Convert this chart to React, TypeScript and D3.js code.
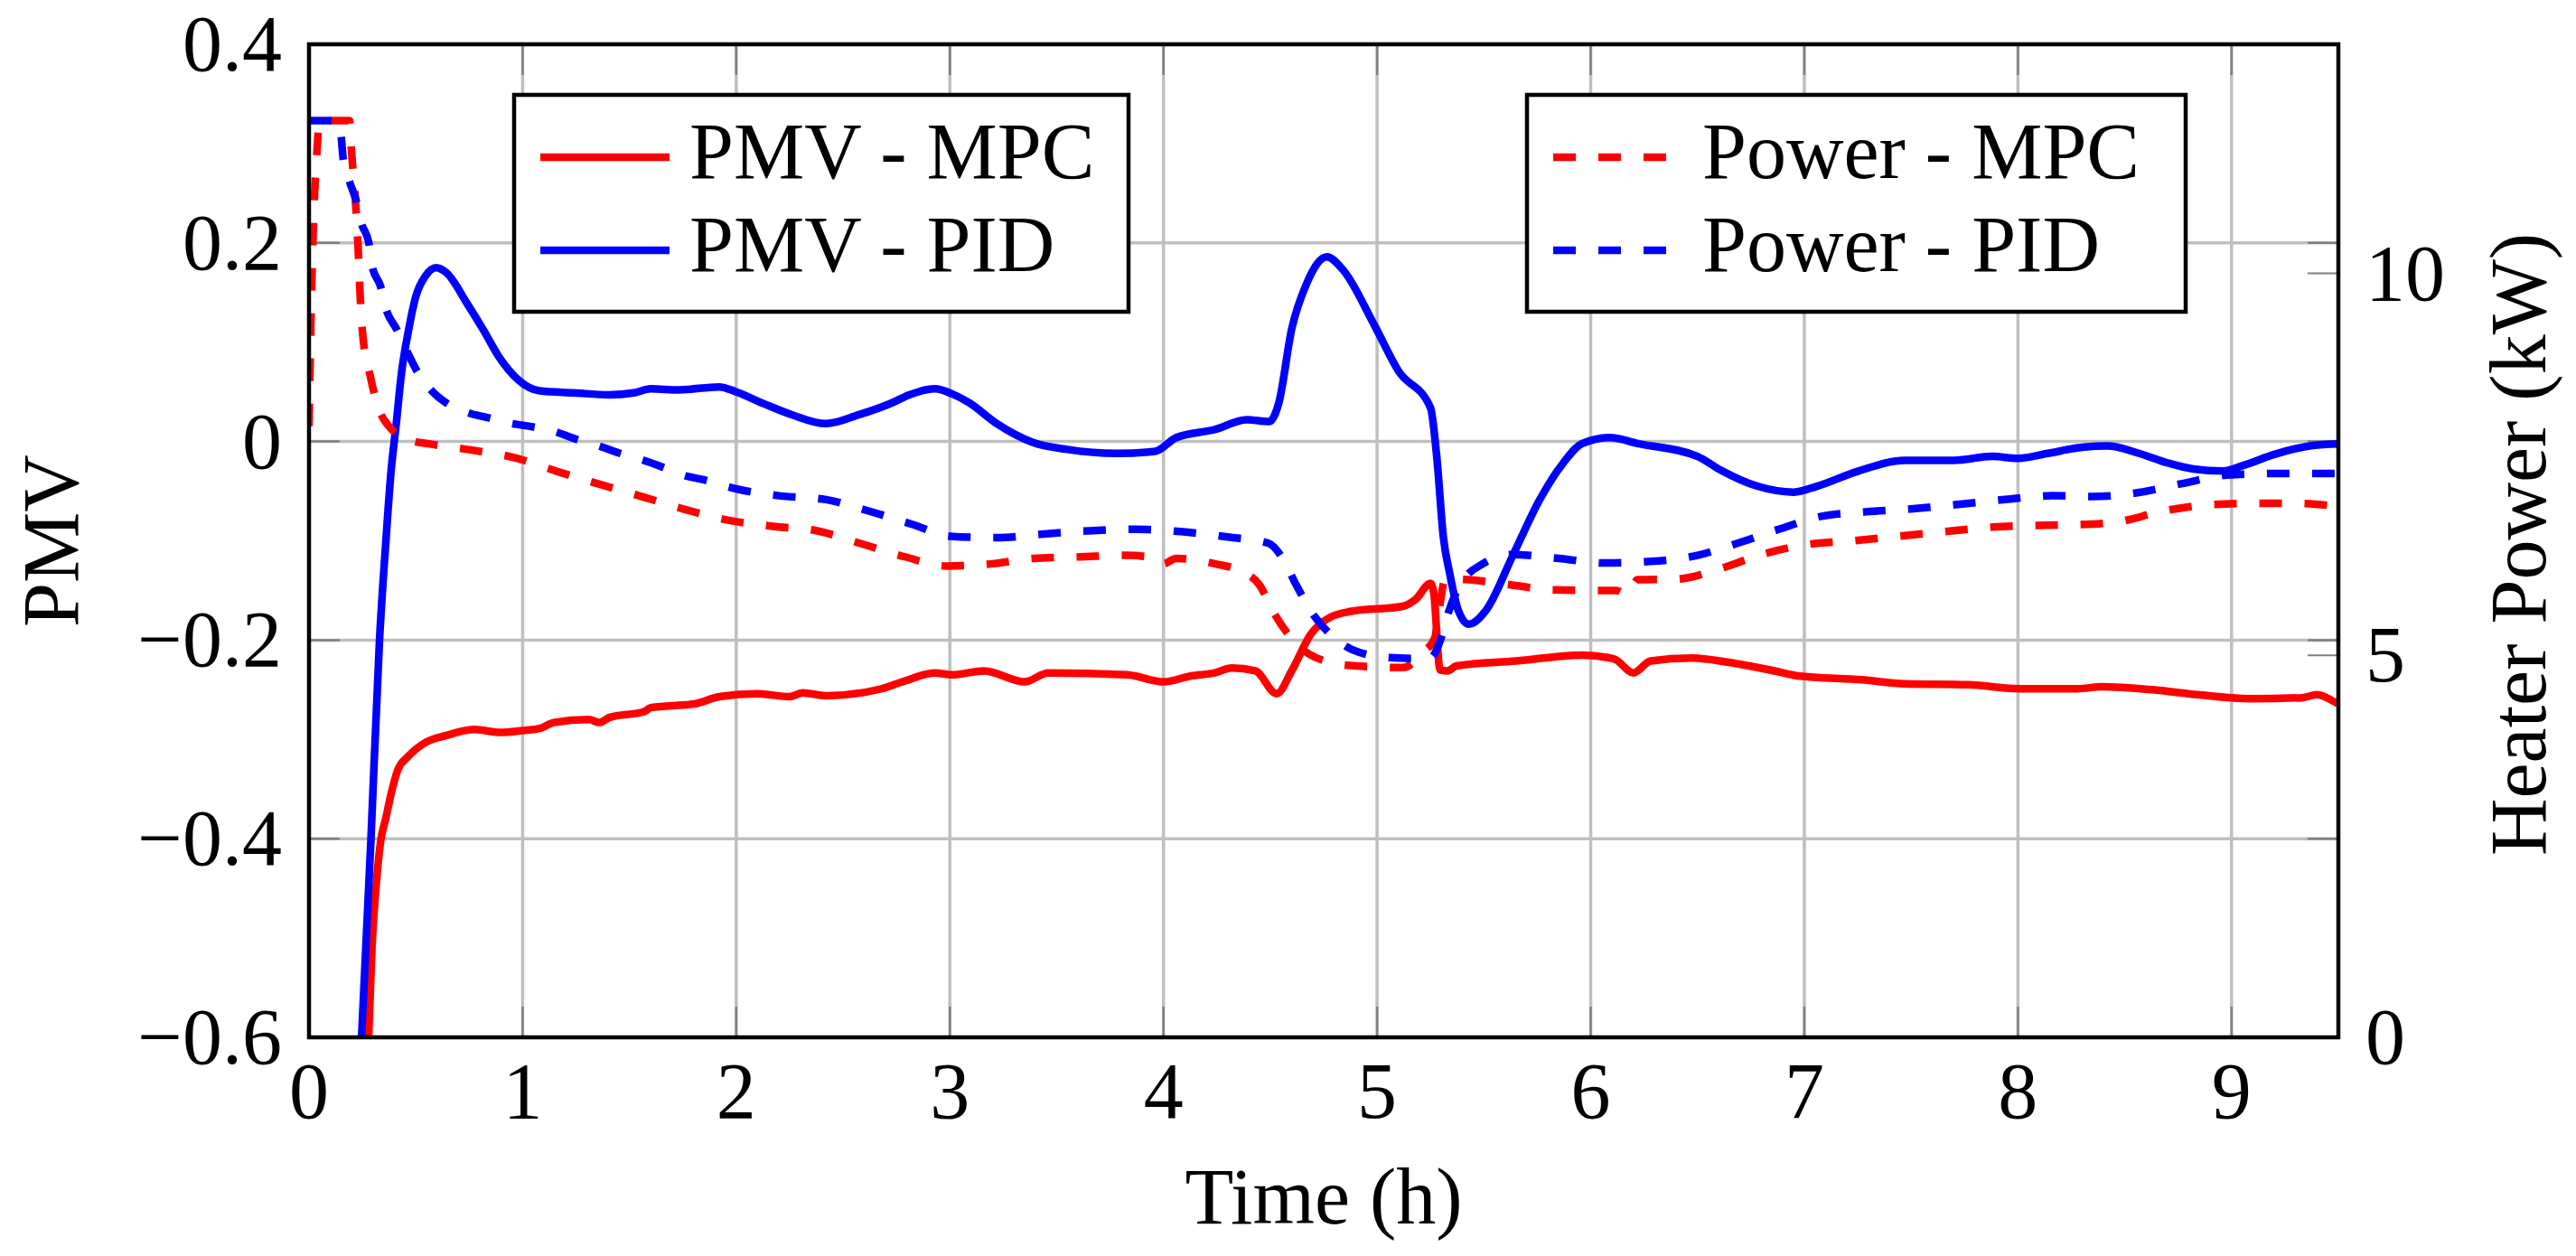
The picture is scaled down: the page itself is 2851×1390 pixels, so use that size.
import React from "react";
import * as d3 from "d3";

// ---------- data ----------
const xTicks = [0, 1, 2, 3, 4, 5, 6, 7, 8, 9];
const yLeftTicks = [0.4, 0.2, 0, -0.2, -0.4, -0.6];
const yLeftTickLabels = ["0.4", "0.2", "0", "\u22120.2", "\u22120.4", "\u22120.6"];
const yRightTicks = [0, 5, 10];
const yRightTickLabels = ["0", "5", "10"];

const pmvMpcT = [0.279, 0.295, 0.311, 0.335, 0.36, 0.384, 0.417, 0.465, 0.546, 0.643, 0.773, 0.9, 1.0, 1.08, 1.146, 1.31, 1.36, 1.405, 1.57, 1.6, 1.81, 1.92, 2.1, 2.25, 2.31, 2.42, 2.68, 2.79, 2.93, 3.01, 3.16, 3.35, 3.46, 3.83, 4.0, 4.13, 4.24, 4.32, 4.43, 4.53, 4.6, 4.69, 4.78, 4.88, 5.12, 5.18, 5.25, 5.265, 5.295, 5.33, 5.37, 5.65, 5.96, 6.11, 6.2, 6.28, 6.47, 6.69, 6.86, 6.97, 7.27, 7.47, 7.77, 8.01, 8.28, 8.39, 8.63, 8.84, 9.09, 9.33, 9.4, 9.49, 9.5];
const pmvMpcV = [-0.6, -0.508, -0.456, -0.403, -0.379, -0.355, -0.33, -0.317, -0.303, -0.296, -0.29, -0.293, -0.291, -0.289, -0.283, -0.28, -0.283, -0.278, -0.272, -0.268, -0.264, -0.257, -0.254, -0.257, -0.253, -0.256, -0.249, -0.241, -0.233, -0.235, -0.231, -0.242, -0.233, -0.235, -0.242, -0.236, -0.233, -0.228, -0.231, -0.254, -0.231, -0.194, -0.177, -0.171, -0.166, -0.159, -0.143, -0.152, -0.23, -0.231, -0.226, -0.221, -0.215, -0.219, -0.233, -0.221, -0.218, -0.224, -0.231, -0.236, -0.24, -0.244, -0.245, -0.249, -0.249, -0.247, -0.25, -0.255, -0.259, -0.258, -0.255, -0.263, -0.264];

const pmvPidT = [0.246, 0.29, 0.33, 0.36, 0.384, 0.408, 0.433, 0.465, 0.5, 0.546, 0.595, 0.643, 0.74, 0.82, 0.887, 0.98, 1.08, 1.24, 1.405, 1.52, 1.6, 1.73, 1.92, 2.0, 2.13, 2.26, 2.42, 2.575, 2.73, 2.81, 2.93, 3.01, 3.09, 3.22, 3.39, 3.55, 3.78, 3.96, 4.06, 4.24, 4.39, 4.495, 4.54, 4.6, 4.67, 4.765, 4.84, 4.99, 5.1, 5.25, 5.28, 5.31, 5.34, 5.38, 5.43, 5.51, 5.635, 5.76, 5.87, 5.96, 6.09, 6.22, 6.5, 6.61, 6.78, 6.95, 7.06, 7.25, 7.47, 7.7, 7.88, 8.0, 8.14, 8.31, 8.42, 8.56, 8.7, 8.82, 8.96, 9.06, 9.2, 9.38, 9.5];
const pmvPidV = [-0.6, -0.4, -0.2, -0.1, -0.03, 0.017, 0.069, 0.111, 0.146, 0.167, 0.175, 0.17, 0.139, 0.111, 0.086, 0.062, 0.051, 0.049, 0.047, 0.049, 0.053, 0.052, 0.055, 0.05, 0.038, 0.027, 0.018, 0.027, 0.039, 0.047, 0.053, 0.048, 0.039, 0.018, -0.001, -0.008, -0.012, -0.01, 0.004, 0.012, 0.022, 0.02, 0.039, 0.113, 0.159, 0.186, 0.173, 0.116, 0.071, 0.034, -0.017, -0.096, -0.133, -0.17, -0.184, -0.17, -0.115, -0.059, -0.022, -0.002, 0.004, -0.002, -0.015, -0.029, -0.045, -0.051, -0.045, -0.03, -0.019, -0.019, -0.015, -0.017, -0.012, -0.0055, -0.0045, -0.0115, -0.0215, -0.0276, -0.0297, -0.0237, -0.013, -0.004, -0.0024];

const powerMpcT = [0, 0.01, 0.02, 0.035, 0.05, 0.19, 0.198, 0.217, 0.23, 0.238, 0.25, 0.287, 0.33, 0.368, 0.48, 0.56, 0.757, 0.96, 1.16, 1.36, 1.57, 1.76, 1.96, 2.17, 2.38, 2.575, 2.79, 2.985, 3.2, 3.39, 3.61, 3.83, 3.95, 4.0, 4.06, 4.24, 4.39, 4.45, 4.51, 4.58, 4.68, 4.86, 5.12, 5.22, 5.27, 5.29, 5.32, 5.43, 5.61, 5.81, 6.02, 6.12, 6.17, 6.22, 6.41, 6.6, 6.8, 7.01, 7.23, 7.44, 7.66, 7.88, 8.05, 8.27, 8.47, 8.68, 8.89, 9.1, 9.3, 9.5];
const powerMpcP = [8.0, 9.5, 10.6, 11.5, 12, 12, 11.64, 10.96, 10.33, 9.79, 9.24, 8.65, 8.2, 8.02, 7.81, 7.77, 7.69, 7.59, 7.41, 7.24, 7.07, 6.91, 6.77, 6.69, 6.63, 6.47, 6.29, 6.17, 6.2, 6.27, 6.29, 6.31, 6.28, 6.2, 6.27, 6.2, 6.07, 5.92, 5.59, 5.29, 5.02, 4.87, 4.84, 5.05, 5.23, 5.6, 6.0, 5.99, 5.93, 5.86, 5.85, 5.85, 5.8, 5.99, 6.0, 6.13, 6.32, 6.45, 6.5, 6.56, 6.62, 6.68, 6.7, 6.71, 6.75, 6.89, 6.97, 6.99, 6.99, 6.95];

const powerPidT = [0, 0.13, 0.15, 0.16, 0.19, 0.22, 0.246, 0.28, 0.295, 0.335, 0.36, 0.41, 0.457, 0.5, 0.56, 0.64, 0.74, 0.84, 0.94, 1.05, 1.15, 1.25, 1.36, 1.45, 1.56, 1.65, 1.75, 1.86, 2.0, 2.2, 2.42, 2.62, 2.83, 3.0, 3.22, 3.44, 3.65, 3.87, 4.08, 4.3, 4.49, 4.56, 4.62, 4.71, 4.8, 4.88, 5.06, 5.19, 5.25, 5.3, 5.33, 5.41, 5.49, 5.63, 5.85, 6.06, 6.28, 6.5, 6.69, 6.88, 7.08, 7.29, 7.51, 7.73, 7.94, 8.16, 8.35, 8.56, 8.77, 8.98, 9.18, 9.5];
const powerPidP = [12, 12, 11.8, 11.5, 11.2, 10.96, 10.65, 10.4, 10.1, 9.83, 9.54, 9.27, 8.99, 8.75, 8.51, 8.31, 8.18, 8.11, 8.04, 7.99, 7.93, 7.83, 7.74, 7.65, 7.56, 7.47, 7.36, 7.29, 7.18, 7.09, 7.04, 6.89, 6.71, 6.56, 6.54, 6.59, 6.63, 6.65, 6.62, 6.55, 6.47, 6.26, 5.93, 5.5, 5.23, 5.08, 4.97, 4.96, 4.97, 5.23, 5.53, 6.01, 6.19, 6.32, 6.27, 6.21, 6.23, 6.31, 6.47, 6.65, 6.82, 6.88, 6.92, 6.98, 7.04, 7.09, 7.08, 7.13, 7.25, 7.36, 7.38, 7.38];

const leftLegend = ["PMV - MPC", "PMV - PID"];
const rightLegend = ["Power - MPC", "Power - PID"];

// ---------- layout ----------
const W = 2851;
const H = 1390;
const L = 342, R = 2588, T = 49, B = 1148;
const FONT = "'Liberation Serif', 'Times New Roman', serif";
const FS = 88;
const RED = "#ff0000";
const BLUE = "#0000ff";
const LW = 8.5;
const DASH = "25 25";

const x = d3.scaleLinear().domain([0, 9.5]).range([L, R]);
const yL = d3.scaleLinear().domain([-0.6, 0.4]).range([B, T]);
const yR = d3.scaleLinear().domain([0, 13]).range([B, T]);

const zip = (a: number[], b: number[]) => a.map((t, i) => [t, b[i]] as [number, number]);

export default function App() {
  const lineL = d3
    .line<[number, number]>()
    .x((d) => x(d[0]))
    .y((d) => yL(d[1]))
    .curve(d3.curveMonotoneX);
  const lineR = d3
    .line<[number, number]>()
    .x((d) => x(d[0]))
    .y((d) => yR(d[1]))
    .curve(d3.curveMonotoneX);

  const series = [
    { d: lineL(zip(pmvMpcT, pmvMpcV)), c: RED, dash: undefined },
    { d: lineL(zip(pmvPidT, pmvPidV)), c: BLUE, dash: undefined },
    { d: lineR(zip(powerMpcT, powerMpcP)), c: RED, dash: DASH },
    { d: lineR(zip(powerPidT, powerPidP)), c: BLUE, dash: DASH },
  ];

  const tickLen = 34;
  const gridC = "#bfbfbf";
  const tickC = "#808080";

  const legendBox = (
    bx: number,
    bw: number,
    labels: string[],
    colors: string[],
    dash: string | undefined,
    key: string
  ) => (
    <g key={key}>
      <rect x={bx} y={105} width={bw} height={240} fill="#fff" stroke="#000" strokeWidth={4.5} />
      {labels.map((lab, i) => {
        const ly = i === 0 ? 174 : 277;
        return (
          <g key={lab}>
            <line x1={bx + 29} x2={bx + 172} y1={ly} y2={ly} stroke={colors[i]} strokeWidth={LW} strokeDasharray={dash} />
            <text x={bx + 194} y={ly + 23} fontSize={FS} fontFamily={FONT} fill="#000">
              {lab}
            </text>
          </g>
        );
      })}
    </g>
  );

  return (
    <svg
      width={W}
      height={H}
      viewBox={`0 0 ${W} ${H}`}
      style={{ position: "absolute", left: 0, top: 0, background: "#fff" }}
    >
      <defs>
        <clipPath id="plotClip">
          <rect x={L} y={T} width={R - L} height={B - T} />
        </clipPath>
      </defs>
      <rect x={0} y={0} width={W} height={H} fill="#fff" />

      {/* grid */}
      <g stroke={gridC} strokeWidth={3.5}>
        {xTicks.map((t) => (
          <line key={"gx" + t} x1={x(t)} x2={x(t)} y1={T} y2={B} />
        ))}
        {yLeftTicks.map((v) => (
          <line key={"gy" + v} x1={L} x2={R} y1={yL(v)} y2={yL(v)} />
        ))}
      </g>

      {/* tick marks */}
      <g stroke={tickC} strokeWidth={2.5}>
        {xTicks.map((t) => (
          <g key={"tx" + t}>
            <line x1={x(t)} x2={x(t)} y1={B} y2={B - tickLen} />
            <line x1={x(t)} x2={x(t)} y1={T} y2={T + tickLen} />
          </g>
        ))}
        {yLeftTicks.map((v) => (
          <g key={"ty" + v}>
            <line x1={L} x2={L + tickLen} y1={yL(v)} y2={yL(v)} />
            <line x1={R} x2={R - tickLen} y1={yL(v)} y2={yL(v)} />
          </g>
        ))}
        {yRightTicks.map((p) => (
          <line key={"tr" + p} x1={R} x2={R - tickLen} y1={yR(p)} y2={yR(p)} strokeWidth={2} />
        ))}
      </g>

      {/* data */}
      <g clipPath="url(#plotClip)" fill="none">
        {series.map((s, i) => (
          <path
            key={i}
            d={s.d || ""}
            stroke={s.c}
            strokeWidth={LW}
            strokeDasharray={s.dash}
            strokeLinejoin="round"
          />
        ))}
      </g>

      {/* frame */}
      <rect x={L} y={T} width={R - L} height={B - T} fill="none" stroke="#000" strokeWidth={4.5} />

      {/* tick labels */}
      <g fontFamily={FONT} fontSize={FS} fill="#000">
        {xTicks.map((t) => (
          <text key={"lx" + t} x={x(t)} y={1237} textAnchor="middle">
            {String(t)}
          </text>
        ))}
        {yLeftTicks.map((v, i) => (
          <text key={"ly" + v} x={312} y={yL(v) + 29} textAnchor="end">
            {yLeftTickLabels[i]}
          </text>
        ))}
        {yRightTicks.map((p, i) => (
          <text key={"lr" + p} x={2618} y={yR(p) + 29} textAnchor="start">
            {yRightTickLabels[i]}
          </text>
        ))}
      </g>

      {/* axis titles */}
      <g fontFamily={FONT} fontSize={FS} fill="#000">
        <text x={(L + R) / 2} y={1354} textAnchor="middle">
          Time (h)
        </text>
        <text transform={`translate(86, ${(T + B) / 2}) rotate(-90)`} textAnchor="middle">
          PMV
        </text>
        <text transform={`translate(2817, ${(T + B) / 2 + 4}) rotate(-90)`} textAnchor="middle">
          Heater Power (kW)
        </text>
      </g>

      {/* legends */}
      {legendBox(569, 680, leftLegend, [RED, BLUE], undefined, "legL")}
      {legendBox(1690, 729, rightLegend, [RED, BLUE], DASH, "legR")}
    </svg>
  );
}
